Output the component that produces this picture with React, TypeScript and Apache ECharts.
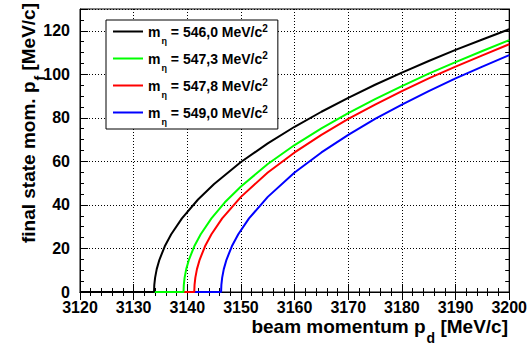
import React, { useEffect, useRef } from 'react';
import * as echarts from 'echarts';

const FONT = 'Liberation Sans';

const masses = ['546,0', '547,3', '547,8', '549,0'];
const seriesNames = ['m546', 'm547_3', 'm547_8', 'm549'];
const colors = ['#000000', '#00ff00', '#ff0000', '#0000ff'];

const blackX = [3120, 3133.8, 3133.85, 3134.0, 3134.3, 3134.8, 3135.8, 3137, 3139, 3142, 3145, 3150, 3155, 3160, 3165, 3170, 3175, 3180, 3185, 3190, 3195, 3200];
const blackY = [0, 0, 3.3, 6.6, 10.5, 14.8, 21.0, 26.5, 33.8, 42.5, 49.6, 59.7, 68.3, 75.9, 82.8, 89.2, 95.2, 100.8, 106.1, 111.2, 116.0, 120.7];

const greenX = [3120, 3139.3, 3139.35, 3139.5, 3139.8, 3140.3, 3141.3, 3142.5, 3144.5, 3147, 3150, 3155, 3160, 3165, 3170, 3175, 3180, 3185, 3190, 3195, 3200];
const greenY = [0, 0, 3.3, 6.6, 10.5, 14.8, 21.0, 26.5, 33.8, 41.2, 48.5, 58.8, 67.5, 75.2, 82.2, 88.6, 94.6, 100.3, 105.6, 110.7, 115.7];

const redX = [3120, 3141.3, 3141.35, 3141.5, 3141.8, 3142.3, 3143.3, 3144.5, 3146.5, 3150, 3155, 3160, 3165, 3170, 3175, 3180, 3185, 3190, 3195, 3200];
const redY = [0, 0, 3.3, 6.6, 10.5, 14.8, 21.0, 26.5, 33.8, 43.7, 54.9, 64.1, 72.2, 79.5, 86.1, 92.3, 98.1, 103.5, 108.7, 113.8];

const blueX = [3120, 3146.3, 3146.35, 3146.5, 3146.8, 3147.3, 3148.3, 3149.5, 3151.5, 3155, 3160, 3165, 3170, 3175, 3180, 3185, 3190, 3195, 3200];
const blueY = [0, 0, 3.3, 6.6, 10.5, 14.8, 21.0, 26.5, 33.8, 43.7, 54.9, 64.1, 72.2, 79.5, 86.1, 92.3, 98.1, 103.5, 108.8];

const curvesX = [blackX, greenX, redX, blueX];
const curvesY = [blackY, greenY, redY, blueY];

const X_MIN = 3120;
const X_MAX = 3200;
const X_STEP = 10;
const Y_MIN = 0;
const Y_MAX = 130;
const Y_STEP = 20;

const xTitle = ['beam momentum p', 'd', ' [MeV/c]'];
const yTitle = ['final state mom. p', 'f', ' [MeV/c]'];

export default function App() {
  const ref = useRef<HTMLDivElement>(null);

  useEffect(() => {
    if (!ref.current) return;
    const chart = echarts.init(ref.current, undefined, { renderer: 'svg' });

    const titleRich = {
      t: { fontSize: 19, fontWeight: 'bold', fontFamily: FONT, color: '#000', lineHeight: 16, verticalAlign: 'middle' },
      s: {
        fontSize: 14, fontWeight: 'bold', fontFamily: FONT, color: '#000',
        lineHeight: 1, verticalAlign: 'top', padding: [13, 0, 0, 1],
      },
    };

    const series = curvesX.map((xs, i) => ({
      name: seriesNames[i],
      type: 'line',
      data: xs.map((x, j) => [x, curvesY[i][j]]),
      showSymbol: false,
      symbol: 'none',
      smooth: false,
      clip: false,
      z: 10 - i,
      color: colors[i],
      lineStyle: { color: colors[i], width: 2 },
      itemStyle: { color: colors[i] },
    }));

    const baseX = { type: 'value', min: X_MIN, max: X_MAX, interval: X_STEP };
    const baseY = { type: 'value', min: Y_MIN, max: Y_MAX, interval: Y_STEP };
    const tick = { show: true, inside: true, length: 8, lineStyle: { color: '#000' } };
    const line = { show: true, lineStyle: { color: '#000', width: 1 } };
    const grid = { show: true, lineStyle: { color: '#000', type: [1, 2], width: 1 } };

    chart.setOption({
      animation: false,
      backgroundColor: '#ffffff',
      grid: {
        left: 80,
        right: 20,
        top: 9,
        bottom: 56,
        show: true,
        borderColor: '#000',
        borderWidth: 1,
        backgroundColor: 'transparent',
      },
      xAxis: [
        {
          ...baseX,
          position: 'bottom',
          axisLine: line,
          axisTick: tick,
          minorTick: { show: true, splitNumber: 5, length: 4, lineStyle: { color: '#000' } },
          axisLabel: {
            show: true, fontSize: 16, fontWeight: 'bold', fontFamily: FONT, color: '#000', margin: 8,
            lineHeight: 14,
            formatter: (v: number) => String(v),
          },
          splitLine: grid,
        },
        {
          ...baseX,
          position: 'top',
          axisLine: line,
          axisTick: tick,
          minorTick: { show: true, splitNumber: 5, length: 4, lineStyle: { color: '#000' } },
          axisLabel: { show: false },
          splitLine: { show: false },
        },
      ],
      yAxis: [
        {
          ...baseY,
          position: 'left',
          axisLine: line,
          axisTick: tick,
          minorTick: { show: true, splitNumber: 4, length: 4, lineStyle: { color: '#000' } },
          axisLabel: {
            show: true, fontSize: 16, fontWeight: 'bold', fontFamily: FONT, color: '#000', margin: 10,
            lineHeight: 13,
            showMaxLabel: false,
          },
          splitLine: grid,
        },
        {
          ...baseY,
          position: 'right',
          axisLine: line,
          axisTick: tick,
          minorTick: { show: true, splitNumber: 4, length: 4, lineStyle: { color: '#000' } },
          axisLabel: { show: false },
          splitLine: { show: false },
        },
      ],
      legend: {
        orient: 'vertical',
        left: 106,
        top: 20,
        backgroundColor: '#ffffff',
        borderColor: '#000',
        borderWidth: 1,
        borderRadius: 0,
        padding: [3, 10, 3, 7],
        itemGap: 5,
        itemWidth: 30,
        itemHeight: 2,
        icon: 'rect',
        z: 20,
        data: seriesNames,
        formatter: (name: string) => {
          const i = seriesNames.indexOf(name);
          return `{t|m}{s|η}{t| = ${masses[i]} MeV/c}{p|2}`;
        },
        textStyle: {
          rich: {
            t: { fontSize: 14, fontWeight: 'bold', fontFamily: FONT, color: '#000', lineHeight: 17, verticalAlign: 'middle' },
            s: { fontSize: 9, fontWeight: 'bold', fontFamily: FONT, color: '#000', lineHeight: 1, verticalAlign: 'top', padding: [13, 0, 0, 1] },
            p: { fontSize: 10, fontWeight: 'bold', fontFamily: FONT, color: '#000', lineHeight: 8, verticalAlign: 'top' },
          },
        },
      },
      graphic: [
        {
          type: 'text',
          x: 508,
          y: 326,
          z: 30,
          style: {
            text: `{t|${xTitle[0]}}{s|${xTitle[1]}}{t|${xTitle[2]}}`,
            align: 'right',
            verticalAlign: 'middle',
            rich: titleRich,
          },
        },
        {
          type: 'text',
          x: 28,
          y: 3,
          rotation: Math.PI / 2,
          z: 30,
          style: {
            text: `{t|${yTitle[0]}}{s|${yTitle[1]}}{t|${yTitle[2]}}`,
            align: 'right',
            verticalAlign: 'middle',
            rich: titleRich,
          },
        },
      ],
      series: series.concat([
        { name: '_ax1', type: 'line', data: [], xAxisIndex: 1, yAxisIndex: 1 } as any,
      ]),
    });

    return () => chart.dispose();
  }, []);

  return (
    <div
      ref={ref}
      style={{ position: 'fixed', left: 0, top: 0, width: 530, height: 348, background: '#fff' }}
    />
  );
}
